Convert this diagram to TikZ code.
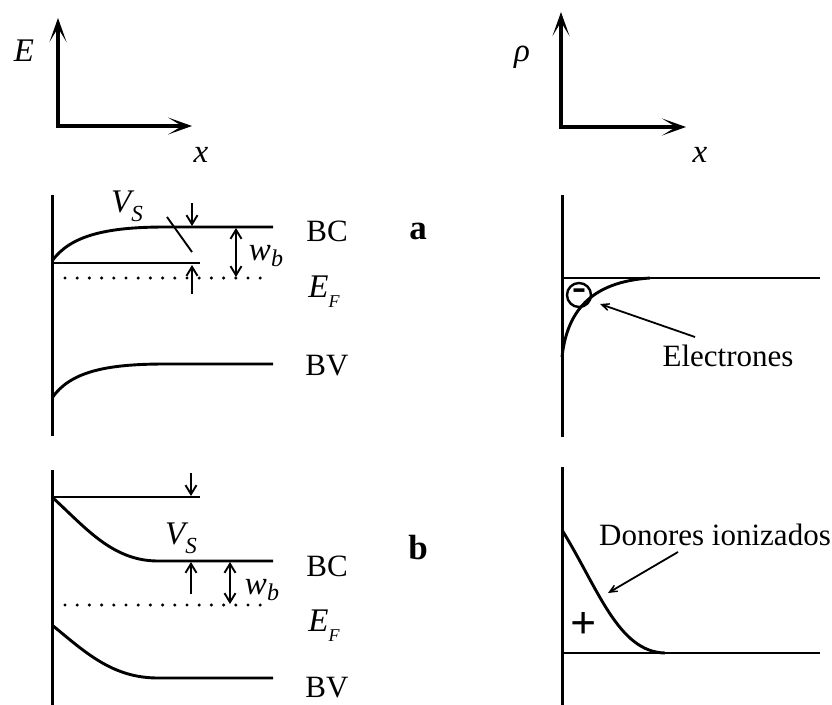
\documentclass[tikz,border=0pt]{standalone}
\usepackage{fontspec}
\setmainfont{Liberation Serif}
\usetikzlibrary{arrows.meta}
\begin{document}
\begin{tikzpicture}[x=1pt,y=-1pt,
  lbl/.style={font=\fontsize{31}{36}\selectfont, inner sep=0pt},
  mlbl/.style={font=\fontsize{33}{38}\selectfont\itshape, inner sep=0pt},
  blbl/.style={font=\fontsize{35}{38}\selectfont\bfseries, inner sep=0pt},
  axis/.style={line width=3.2pt, -{Stealth[length=24pt,width=17pt,inset=14pt]}},
  band/.style={line width=2.9pt},
  wall/.style={line width=3pt},
  thin/.style={line width=1.9pt},
  sarr/.style={thin, -{Straight Barb[length=9pt,width=11pt]}},
  darr/.style={thin, {Straight Barb[length=9pt,width=11pt]}-{Straight Barb[length=9pt,width=11pt]}},
  pointer/.style={line width=1.8pt, -{Stealth[length=17pt,width=15pt,inset=12pt]}},
  fermi/.style={line width=3.4pt, line cap=round, dash pattern=on 0pt off 12.2pt},
]
\useasboundingbox (0,0) rectangle (832,704);

% ---------- axes ----------
\coordinate (eov) at (58,127.6);
\coordinate (eoh) at (56.4,126);
\coordinate (ey) at (58,18);
\coordinate (ex) at (192,126);
\draw[axis] (eov) -- (ey);
\draw[axis] (eoh) -- (ex);
\node[mlbl] (lE) at (24,51) {E};
\node[mlbl] (lx1) at (201,155) {x};

\coordinate (rov) at (561,128.6);
\coordinate (roh) at (559.4,127);
\coordinate (ry) at (561,12);
\coordinate (rx) at (686,127);
\draw[axis] (rov) -- (ry);
\draw[axis] (roh) -- (rx);
\node[mlbl] (lrho) at (522,57) {ρ};
\node[mlbl] (lx2) at (700,155) {x};

% ---------- panel a, left ----------
\coordinate (wa1) at (52,195);
\coordinate (wa2) at (52,436);
\draw[wall] (wa1) -- (wa2);
\draw[band] (52,261) .. controls (70,236) and (105,227) .. (165,227) -- (273,227);
\draw[band] (52,263) -- (200,263);
\draw[fermi] (65,278) -- (270,278);
\draw[band] (52,398) .. controls (70,372) and (105,364) .. (165,364) -- (273,364);
\coordinate (va1) at (192,203); \coordinate (va2) at (192,226);
\coordinate (va3) at (192,294); \coordinate (va4) at (192,265);
\draw[sarr] (va1) -- (va2);
\draw[sarr] (va3) -- (va4);
\node[mlbl] (lVa) at (127,206) {V\raisebox{-0.28em}{\fontsize{23}{23}\selectfont S}};
\coordinate (la1) at (167,217); \coordinate (la2) at (192,252);
\draw[thin] (la1) -- (la2);
\coordinate (wb1) at (236,228); \coordinate (wb2) at (236,277);
\draw[darr] (wb1) -- (wb2);
\node[mlbl] (lwa) at (266,256) {w\raisebox{-0.2em}{\fontsize{24}{24}\selectfont b}};
\node[lbl] (BCa) at (327,231) {BC};
\node[mlbl] (EFa) at (324,292) {E\raisebox{-0.3em}{\fontsize{18}{18}\selectfont F}};
\node[lbl] (BVa) at (327,366) {BV};
\node[blbl] (la) at (418,231) {a};

% ---------- panel b, left ----------
\coordinate (wb3) at (52,470);
\coordinate (wb4) at (52,706);
\draw[wall] (wb3) -- (wb4);
\draw[band] (52,497) -- (200,497);
\draw[band] (52,497) .. controls (85,527) and (112,561) .. (158,561) -- (273,561);
\coordinate (vb1) at (191,473); \coordinate (vb2) at (191,496);
\coordinate (vb3) at (191,594); \coordinate (vb4) at (191,562);
\draw[sarr] (vb1) -- (vb2);
\draw[sarr] (vb3) -- (vb4);
\node[mlbl] (lVb) at (181,538) {V\raisebox{-0.28em}{\fontsize{23}{23}\selectfont S}};
\coordinate (wd1) at (230,562); \coordinate (wd2) at (230,604);
\draw[darr] (wd1) -- (wd2);
\node[mlbl] (lwb) at (262,590) {w\raisebox{-0.2em}{\fontsize{24}{24}\selectfont b}};
\draw[fermi] (65,605) -- (270,605);
\draw[band] (52,625) .. controls (85,652) and (112,678) .. (158,678) -- (273,678);
\node[lbl] (BCb) at (327,566) {BC};
\node[mlbl] (EFb) at (324,626) {E\raisebox{-0.3em}{\fontsize{18}{18}\selectfont F}};
\node[lbl] (BVb) at (327,688) {BV};
\node[blbl] (lb) at (418,548) {b};

% ---------- panel a, right ----------
\coordinate (ra1) at (562,195);
\coordinate (ra2) at (562,437);
\draw[wall] (ra1) -- (ra2);
\draw[band] (562,278) -- (820,278);
\draw[band] (562,357) .. controls (567,312) and (590,282) .. (650,278);
\node[draw, circle, line width=2.4pt, minimum size=24pt, inner sep=0pt,
      font=\fontsize{42}{42}\selectfont\bfseries] (minus) at (579,295) {\raisebox{-0.1em}{-}};
\node[lbl] (elec) at (728,356) {Electrones};
\coordinate (ep1) at (695,337); \coordinate (ep2) at (600,304);
\draw[pointer] (ep1) -- (ep2);

% ---------- panel b, right ----------
\coordinate (rb1) at (562,467);
\coordinate (rb2) at (562,706);
\draw[wall] (rb1) -- (rb2);
\draw[band] (562,653) -- (820,653);
\draw[band] (562,530) .. controls (598,588) and (618,652) .. (665,653);
\node[font=\fontsize{46}{46}\selectfont\bfseries, inner sep=0pt] (plus) at (584,625) {+};
\node[lbl] (don) at (715,535) {Donores ionizados};
\coordinate (dp1) at (678,552); \coordinate (dp2) at (608,593);
\draw[pointer] (dp1) -- (dp2);
\end{tikzpicture}
\end{document}
